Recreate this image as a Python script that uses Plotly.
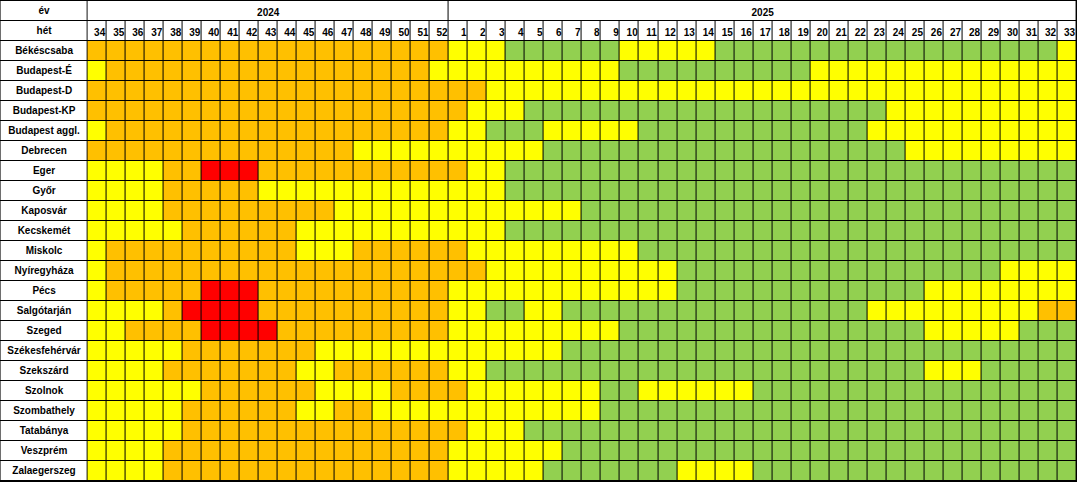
import plotly.graph_objects as go

# ---- data -------------------------------------------------------------
year_labels = ["2024", "2025"]
weeks_2024 = list(range(34, 53))
weeks_2025 = list(range(1, 34))
regions = [
    "Békéscsaba", "Budapest-É", "Budapest-D", "Budapest-KP", "Budapest aggl.",
    "Debrecen", "Eger", "Győr", "Kaposvár", "Kecskemét", "Miskolc",
    "Nyíregyháza", "Pécs", "Salgótarján", "Szeged", "Székesfehérvár",
    "Szekszárd", "Szolnok", "Szombathely", "Tatabánya", "Veszprém", "Zalaegerszeg",
]
# level per week: G = green, Y = yellow, O = orange, R = red (spaces only for readability)
levels_2024 = [
    "OOOOOOOOOO OOOOOOOOO",
    "Y OOOOOOOOOO OOOOOOO Y",
    "OOOOOOOOOO OOOOOOOOO",
    "OOOOOOOOOO OOOOOOOOO",
    "Y OOOOOOOOOO OOOOOOOO",
    "OOOOOOOOOO OOOO YYYYY",
    "YYYY OO RRR OOOOOOOOOO",
    "YYYY OOOOO YYYYYYYYYY",
    "YYYY OOOOOOOOO YYYYYY",
    "YYYYY OOOOOO YYYYYYYY",
    "Y OOOOOOOOOO YYY OOOOO",
    "Y OOOOOOOOOO OOOOOOOO",
    "Y OOOOO RRR OOOOOOOOOO",
    "YYYY O RRRR OOOOOOOOOO",
    "YY OOOO RRRR OOOOOOOOO",
    "YYYYY OOOOOOO YYYYYYY",
    "YYYY OOOOOOO YY OOOOOO",
    "YYYYYY OOOOOO YYYY OOO",
    "YYYYY OOOOOO YY OO YYYY",
    "YYYYY OOOOOOOOOO OOOO",
    "YYYY OOOOOOOOOO OOOOO",
    "YYYY OOOOOOOOOO OOOOO",
]
levels_2025 = [
    "YYY GGGGGG YYYYY GGGGGGGGGG GGGGGGGG Y",
    "YYYYYYYYY GGGGGGGGGG YYYYYYYYYY YYYY",
    "OO YYYYYYYYYY YYYYYYYYYY YYYYYYYYYY Y",
    "O YYY GGGGGGGGGG GGGGGGGGG YYYYYYYYYY",
    "YY GGG YYYYY GGGGGGGGGG GG YYYYYYYYYY Y",
    "YYYYY GGGGGGGGGG GGGGGGGGG YYYYYYYYY",
    "O YY GGGGGGGGGG GGGGGGGGGG GGGGGGGGGG",
    "YYY GGGGGGGGGG GGGGGGGGGG GGGGGGGGGG",
    "YYYYYYY GGGGGGGGGG GGGGGGGGGG GGGGGG",
    "YYY GGGGGGGGGG GGGGGGGGGG GGGGGGGGGG",
    "O YYYYYYYYY GGGGGGGGGG GGGGGGGGGG GGG",
    "OO YYYYYYYYYY GGGGGGGGGG GGGGGGG YYYY",
    "YYYYYYYYYY YY GGGGGGGGGG GGG YYYYYYYY",
    "YY GG YY GGGGGGGGGG GGGGGG YYYYYYYYY OO",
    "YYYYYYYYY GGGGGGGGGG GGGGGG YYYYY GGG",
    "YYYYYY GGGGGGGGGG GGGGGGGGGG GGGGGGG",
    "YY GGGGGGGGGG GGGGGGGGGG GGG YYY GGGGG",
    "O YYYYYYY GG YYYYYY GGGGGGGGGG GGGGGGG",
    "YYYYYYYY GGGGGGGGGG GGGGGGGGGG GGGGG",
    "O YYY GGGGGGGGGG GGGGGGGGGG GGGGGGGGG",
    "YYYYYY GGGGGGGGGG GGGGGGGGGG GGGGGGG",
    "YYYYY GGGGGGG YYYY GGGGGGGGGG GGGGGGG",
]

# ---- build ------------------------------------------------------------
code = {"G": 0, "Y": 1, "O": 2, "R": 3}
weeks = [str(w) for w in weeks_2024 + weeks_2025]
n_w = len(weeks)
z = []
for a, b in zip(levels_2024, levels_2025):
    s = (a + b).replace(" ", "")
    assert len(s) == n_w, (a, b, len(s))
    z.append([code[c] for c in s])

GREEN, YELLOW, ORANGE, RED = "#92D050", "#FFFF00", "#FFC000", "#FF0000"
cs = [[0, GREEN], [1/6, GREEN], [1/6, YELLOW], [0.5, YELLOW],
      [0.5, ORANGE], [5/6, ORANGE], [5/6, RED], [1, RED]]
white = [[0, "white"], [1, "white"]]

LW = 87 / 19.02          # width of the label column in week units
GAP = 1
FONT = dict(family="Liberation Sans", size=10, color="black", weight="bold")

n_r = len(regions)
fig = go.Figure()

# data cells
fig.add_trace(go.Heatmap(
    z=z, x=list(range(n_w + 1)), y=list(range(2, n_r + 3)),
    colorscale=cs, zmin=0, zmax=3, showscale=False,
    xgap=GAP, ygap=GAP, hoverinfo="skip"))

# header: week row
fig.add_trace(go.Heatmap(
    z=[[0] * n_w], x=list(range(n_w + 1)), y=[1, 2],
    colorscale=white, showscale=False, xgap=GAP, ygap=GAP, hoverinfo="skip"))
# header: year row (merged cells)
n24 = len(weeks_2024)
fig.add_trace(go.Heatmap(
    z=[[0, 0]], x=[0, n24, n_w], y=[0, 1],
    colorscale=white, showscale=False, xgap=GAP, ygap=GAP, hoverinfo="skip"))
# label column
row_labels = ["év", "hét"] + regions
fig.add_trace(go.Heatmap(
    z=[[0] for _ in row_labels], x=[-LW, 0], y=list(range(len(row_labels) + 1)),
    colorscale=white, showscale=False, xgap=GAP, ygap=GAP, hoverinfo="skip"))

# texts
fig.add_trace(go.Scatter(
    x=[-LW / 2] * len(row_labels), y=[i + 0.52 for i in range(len(row_labels))],
    text=row_labels, mode="text", textposition="middle center",
    textfont=FONT, hoverinfo="skip", showlegend=False))
fig.add_trace(go.Scatter(
    x=[i + 0.93 for i in range(n_w)], y=[1.62] * n_w,
    text=weeks, mode="text", textposition="middle left",
    textfont=FONT, hoverinfo="skip", showlegend=False))
fig.add_trace(go.Scatter(
    x=[n24 / 2, (n24 + n_w) / 2], y=[0.62, 0.62],
    text=year_labels, mode="text", textposition="middle center",
    textfont=FONT, hoverinfo="skip", showlegend=False))

fig.update_layout(
    width=1077, height=482,
    margin=dict(l=0, r=0, t=0, b=0),
    paper_bgcolor="white", plot_bgcolor="black",
    showlegend=False,
    xaxis=dict(range=[-LW - 0.03, n_w + 0.03], visible=False, fixedrange=True),
    yaxis=dict(range=[n_r + 2 + 0.05, -0.05], visible=False, fixedrange=True),
)

fig.write_html("out.html", config={"displayModeBar": False},
               post_script="document.body.style.margin='0';document.body.style.overflow='hidden';")
